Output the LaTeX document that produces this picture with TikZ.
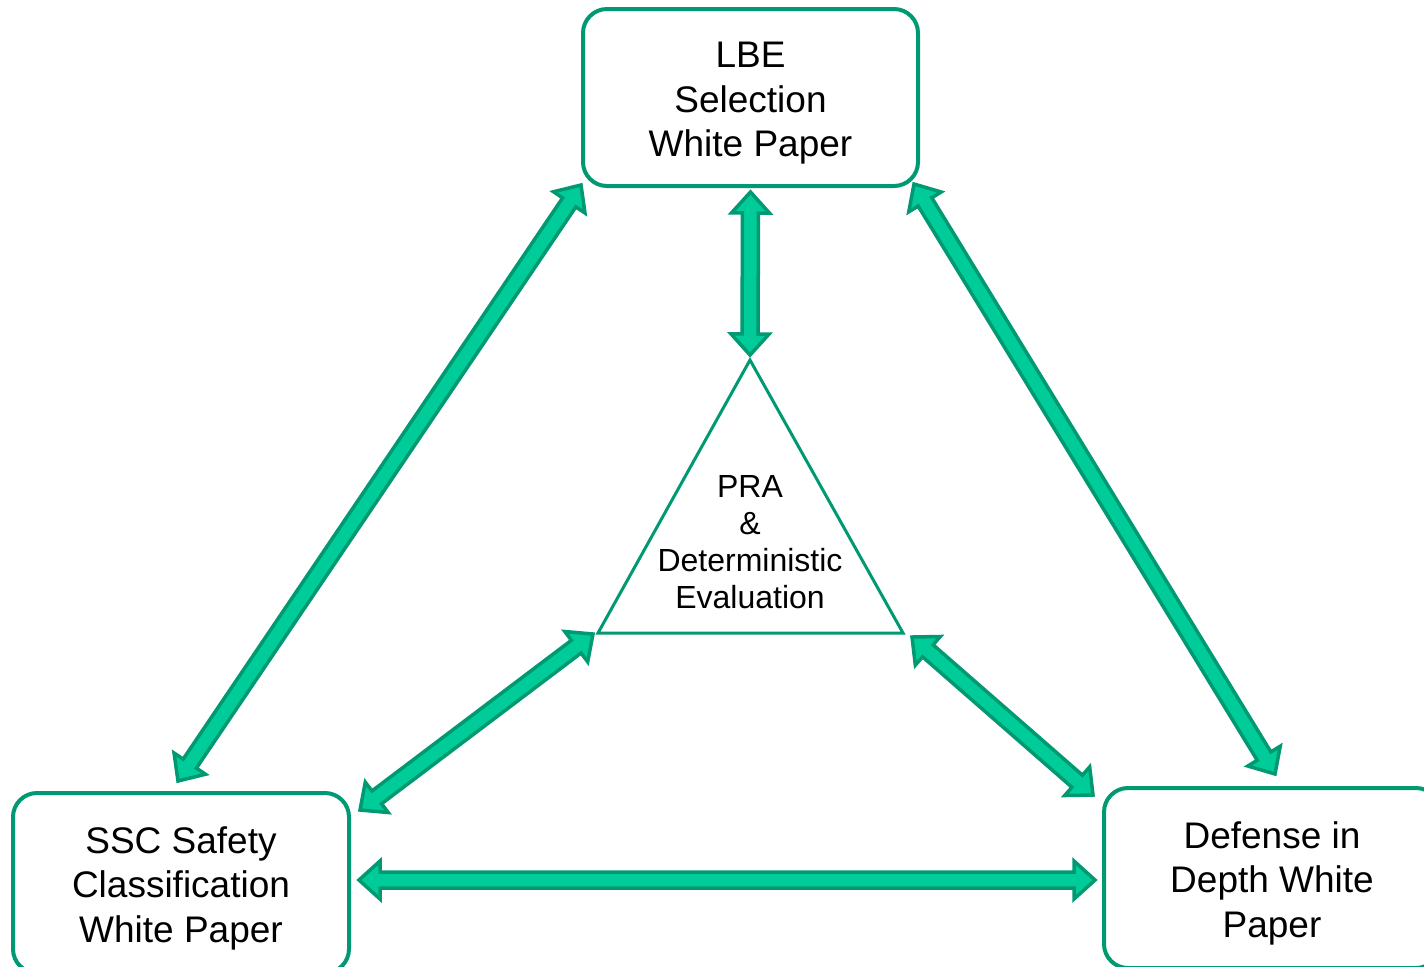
\documentclass[tikz,border=0pt]{standalone}
\usepackage{fontspec}
\setmainfont{Liberation Sans}
\usetikzlibrary{calc}

\definecolor{wpgreen}{RGB}{0,153,114}
\definecolor{wplight}{RGB}{0,204,153}

% fat double arrow between two points
\newcommand\fatarrow[2]{%
  \coordinate (fa) at #1;
  \coordinate (fb) at #2;
  \coordinate (fam) at ($(fa)!10.5pt!(fb)$);
  \coordinate (fbm) at ($(fb)!10.5pt!(fa)$);
  \filldraw[fat] (fa)
    -- ($(fam)!9.5pt!90:(fb)$) -- ($(fam)!4pt!90:(fb)$)
    -- ($(fbm)!4pt!-90:(fa)$) -- ($(fbm)!9.5pt!-90:(fa)$)
    -- (fb)
    -- ($(fbm)!9.5pt!90:(fa)$) -- ($(fbm)!4pt!90:(fa)$)
    -- ($(fam)!4pt!-90:(fb)$) -- ($(fam)!9.5pt!-90:(fb)$)
    -- cycle;}
\newcommand\topstrut{\rule{0pt}{18.5pt}}

\begin{document}
\begin{tikzpicture}[x=0.5pt, y=-0.5pt,
    wpbox/.style={draw=wpgreen, line width=2pt, rounded corners=12pt, align=center,
      inner sep=0pt, font=\fontsize{18.5}{22.25}\selectfont},
    fat/.style={draw=wpgreen, fill=wplight, line width=1.75pt, line join=miter}]
\useasboundingbox (0,0) rectangle (1424,966);

\node[wpbox, minimum width=167.5pt, minimum height=88.5pt] (lbe) at (750.5,97.5) {\topstrut LBE\\Selection\\White Paper};
\node[wpbox, minimum width=168pt, minimum height=90pt] (ssc) at (181,883) {\topstrut SSC Safety\\Classification\\White Paper};
\node[wpbox, minimum width=168pt, minimum height=90pt] (did) at (1272,878) {\topstrut Defense in\\Depth White\\Paper};

% triangle in the middle
\coordinate (tt) at (750,360);
\coordinate (tl) at (598,633);
\coordinate (tr) at (903,633);
\draw[wpgreen, line width=1.5pt, line join=miter] (tt) -- (tr) -- (tl) -- cycle;
\node[align=center, font=\fontsize{16}{18.5}\selectfont] (pra) at (750,542) {PRA\\\&\\Deterministic\\Evaluation};

\fatarrow{($(lbe.south west)+(0,-3)$)}{($(ssc.north)+(-3,-10)$)}
\fatarrow{($(lbe.south)+(0,4)$)}{($(tt)+(0,-5)$)}
\fatarrow{($(lbe.south east)+(-6,-4)$)}{($(did.north)+(3,-12)$)}
\fatarrow{($(tl)+(-5,1)$)}{($(ssc.north east)+(9,19)$)}
\fatarrow{($(tr)+(9,4)$)}{($(did.north west)+(-9,9)$)}
\fatarrow{($(ssc.east)+(8,-3)$)}{($(did.west)+(-7,2)$)}
\end{tikzpicture}
\end{document}
